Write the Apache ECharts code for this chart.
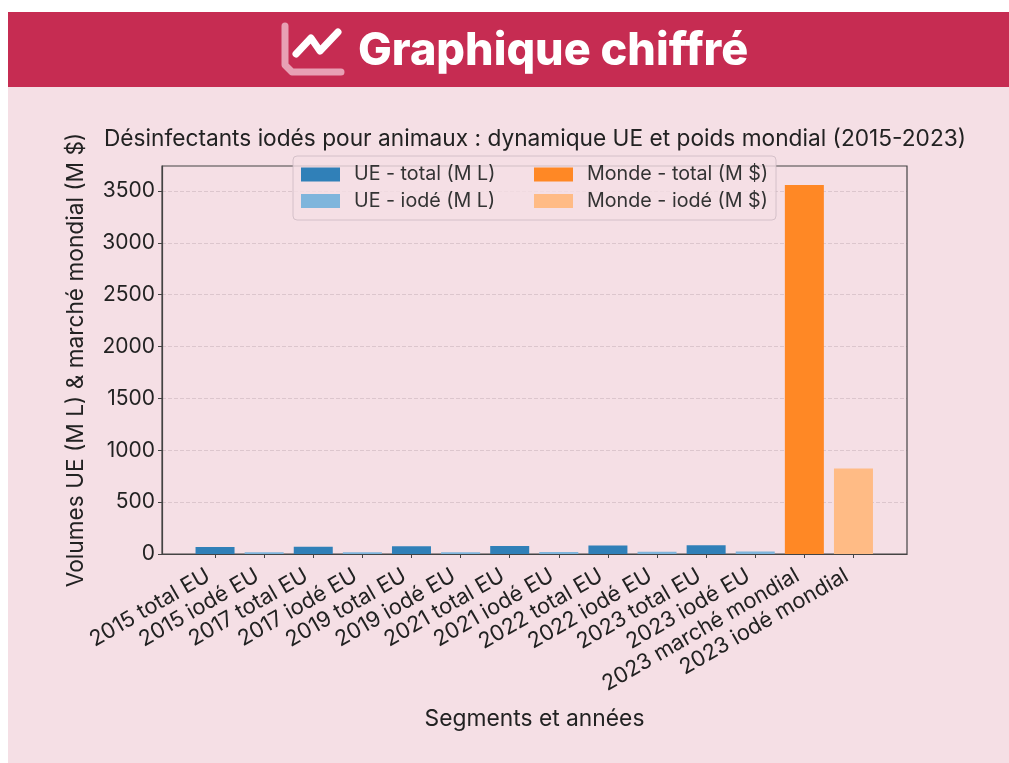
<!DOCTYPE html>
<html><head><meta charset="utf-8">
<style>html,body{margin:0;padding:0;background:#fff}#c{width:1009px;height:763px}</style>
<script src="https://cdn.jsdelivr.net/npm/echarts@6/dist/echarts.min.js"></script></head>
<body><div id="c"></div>
<script>
const categories=['2015 total EU','2015 iodé EU','2017 total EU','2017 iodé EU','2019 total EU','2019 iodé EU','2021 total EU','2021 iodé EU','2022 total EU','2022 iodé EU','2023 total EU','2023 iodé EU','2023 marché mondial','2023 iodé mondial'];
const ueTotal=[[0,68],[2,71],[4,75],[6,78],[8,81],[10,85]];
const ueIode=[[1,16],[3,17],[5,18],[7,19],[9,21],[11,23]];
const mondeTotal=[[12,3558]];
const mondeIode=[[13,825]];
const yTicks=[0,500,1000,1500,2000,2500,3000,3500];
const FONT='Inter';
const ink='#222';
const chart=echarts.init(document.getElementById('c'),null,{renderer:'canvas'});
const mk=(name,data,color)=>({name,type:'bar',data,barWidth:39,barGap:'-100%',itemStyle:{color,borderWidth:0},z:2});
const legendBase={orient:'vertical',top:159.5,icon:'rect',itemWidth:39,itemHeight:14,itemGap:6.5,textStyle:{fontFamily:FONT,fontSize:19.7,lineHeight:20,color:'#333',padding:[0,0,0,9]},itemStyle:{borderWidth:0}};
chart.setOption({
 animation:false,
 backgroundColor:'#fff',
 textStyle:{fontFamily:FONT},
 title:{text:'Désinfectants iodés pour animaux : dynamique UE et poids mondial (2015-2023)',left:530,top:123,textAlign:'center',textStyle:{fontFamily:FONT,fontSize:22.7,fontWeight:400,color:ink}},
 grid:{left:162,right:102,top:166,bottom:209,show:true,borderColor:'#444',borderWidth:1.2,z:1},
 xAxis:{type:'value',min:-1.08,max:14.09,name:'Segments et années',nameLocation:'middle',nameGap:154,nameTextStyle:{fontFamily:FONT,fontSize:22.8,color:ink,fontWeight:400},
  splitLine:{show:false},axisLine:{show:true,onZero:false,lineStyle:{color:'#444',width:1.2}},
  axisTick:{show:true,customValues:categories.map((_,i)=>i),length:4,lineStyle:{color:'#444'}},
  axisLabel:{show:true,customValues:categories.map((_,i)=>i),rotate:30,fontFamily:FONT,fontSize:21.7,color:ink,margin:16,padding:[0,8,0,0],formatter:v=>categories[v]??''}},
 yAxis:{type:'value',min:0,max:3741,name:'Volumes UE (M L) & marché mondial (M $)',nameLocation:'middle',nameGap:74,nameTextStyle:{fontFamily:FONT,fontSize:22.7,color:ink,fontWeight:400},
  splitLine:{show:true,lineStyle:{color:'#dcc6cd',type:'dashed',width:1}},
  axisLine:{show:true,onZero:false,lineStyle:{color:'#444',width:1.2}},
  axisTick:{show:true,customValues:yTicks,length:4,lineStyle:{color:'#444'}},
  axisLabel:{customValues:yTicks,fontFamily:FONT,fontSize:21,color:ink,margin:7,formatter:v=>String(v)}},
 legend:[
  Object.assign({data:['UE - total (M L)','UE - iodé (M L)'],left:296},legendBase),
  Object.assign({data:['Monde - total (M $)','Monde - iodé (M $)'],left:529},legendBase)
 ],
 graphic:[
  {type:'rect',silent:true,z:-10,shape:{x:8,y:12,width:1001,height:751},style:{fill:'#f5dfe5'}},
  {type:'rect',silent:true,z:-9,shape:{x:8,y:12,width:1001,height:75},style:{fill:'#c62c52'}},
  {type:'polyline',silent:true,z:-8,shape:{points:[[285,26],[285,65],[292,72],[341,72]]},style:{fill:'none',stroke:'#e8a0b4',lineWidth:7,lineCap:'round',lineJoin:'round'}},
  {type:'polyline',silent:true,z:-8,shape:{points:[[296,54],[311,38],[320,51],[338,32]]},style:{fill:'none',stroke:'#fff',lineWidth:7,lineCap:'round',lineJoin:'round'}},
  {type:'text',silent:true,z:-8,x:358,y:51,style:{text:'Graphique chiffré',fill:'#fff',font:'800 45px Inter',textVerticalAlign:'middle'}},
  {type:'rect',silent:true,z:3,shape:{x:293,y:156,width:483,height:64,r:4},style:{fill:'rgba(245,223,229,0.8)',stroke:'rgba(200,180,190,0.7)',lineWidth:1}}
 ],
 series:[
  mk('UE - total (M L)',ueTotal,'#3080b8'),
  mk('UE - iodé (M L)',ueIode,'#7fb5dc'),
  mk('Monde - total (M $)',mondeTotal,'#ff8825'),
  mk('Monde - iodé (M $)',mondeIode,'#ffbb85')
 ]
});
</script></body></html>
